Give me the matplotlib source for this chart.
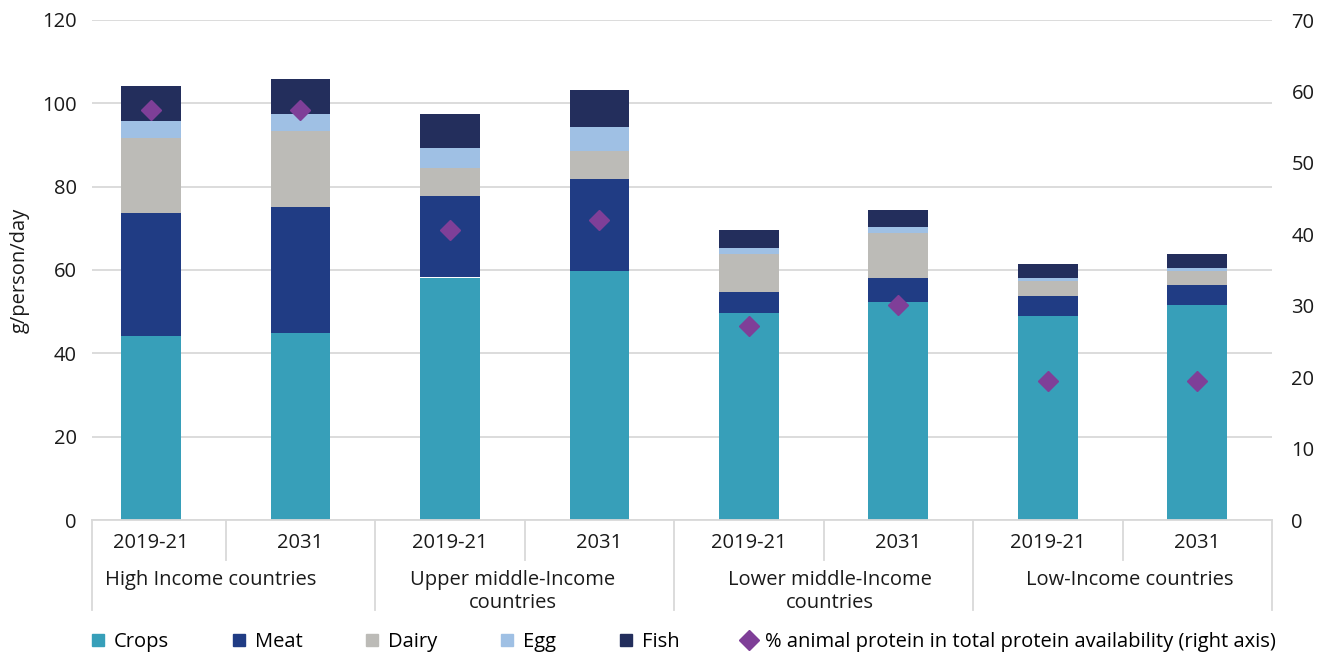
import matplotlib
matplotlib.use("Agg")
import matplotlib.pyplot as plt
from matplotlib.lines import Line2D
import numpy as np

plt.rcParams["font.family"] = ["Open Sans", "DejaVu Sans"]

years = ["2019-21", "2031", "2019-21", "2031", "2019-21", "2031", "2019-21", "2031"]
groups = ["High Income countries", "Upper middle-Income\ncountries",
          "Lower middle-Income\ncountries", "Low-Income countries"]

crops = [44.2, 44.9, 58.2, 59.8, 49.8, 52.3, 49.0, 51.5]
meat  = [29.4, 30.3, 19.6, 22.0, 4.9, 5.7, 4.8, 4.8]
dairy = [18.2, 18.2, 6.6, 6.7, 9.1, 10.8, 3.5, 3.4]
egg   = [4.0, 4.1, 4.9, 5.7, 1.6, 1.6, 0.7, 0.7]
fish  = [8.4, 8.3, 8.2, 9.0, 4.2, 4.1, 3.4, 3.4]
animal_share = [57.4, 57.4, 40.6, 42.0, 27.2, 30.1, 19.5, 19.5]

series = [("Crops", crops, "#379fb9"),
          ("Meat", meat, "#203c84"),
          ("Dairy", dairy, "#bcbbb7"),
          ("Egg", egg, "#9fc0e4"),
          ("Fish", fish, "#232e5c")]
diamond_color = "#7f3f98"
grid_color = "#d9d9d9"

fig = plt.figure(figsize=(13.32, 6.52), dpi=100)
ax = fig.add_axes([92 / 1332, 1 - 520 / 652, (1272 - 92) / 1332, 500 / 652])

x = np.arange(len(years))
bottom = np.zeros(len(years))
for name, vals, col in series:
    ax.bar(x, vals, width=0.40, bottom=bottom, color=col, edgecolor="none", zorder=2)
    bottom += np.array(vals)

ax.set_ylim(0, 120)
ax.set_yticks(range(0, 121, 20))
ax.set_xlim(-0.395, 7.5)
ax.set_xticks([])
ax.grid(axis="y", color=grid_color, lw=1.3, zorder=0)
for s in ax.spines.values():
    s.set_visible(False)
ax.tick_params(axis="y", length=0, pad=11, labelsize=14.5, colors="#1a1a1a")
ax.set_ylabel("g/person/day", fontsize=14.5, labelpad=9, color="#1a1a1a")

ax2 = ax.twinx()
ax2.set_ylim(0, 70)
ax2.set_yticks(range(0, 71, 10))
for s in ax2.spines.values():
    s.set_visible(False)
ax2.tick_params(axis="y", length=0, pad=14, labelsize=14.5, colors="#1a1a1a")
ax2.plot(x, animal_share, "D", color=diamond_color, ms=10.5, ls="", zorder=5)

# two-level category axis
trans = ax.get_xaxis_transform()
ax.plot([-0.395, 7.5], [0, 0], color=grid_color, lw=1.3, transform=trans, clip_on=False)
for b in np.arange(0.5, 7.5, 1.0):
    long = int(round(b - 0.5)) % 2 == 1
    ax.plot([b, b], [0, -0.18 if long else -0.08], color=grid_color, lw=1.3,
            transform=trans, clip_on=False)
for b in (-0.395, 7.5):
    ax.plot([b, b], [0, -0.18], color=grid_color, lw=1.3, transform=trans, clip_on=False)

for i, lab in enumerate(years):
    ax.text(i, -0.046, lab, transform=trans, ha="center", va="center",
            fontsize=14.5, color="#1a1a1a")
group_x = [0.4, 2.42, 4.54, 6.55]
for gx, lab in zip(group_x, groups):
    ax.text(gx, -0.10, lab, transform=trans, ha="center", va="top",
            fontsize=14.5, color="#1a1a1a", linespacing=1.2)

handles = [Line2D([], [], marker="s", ls="", color=c, ms=9) for _, _, c in series]
handles.append(Line2D([], [], marker="D", ls="", color=diamond_color, ms=10))
labels = [n for n, _, _ in series] + ["% animal protein in total protein availability (right axis)"]
fig.legend(handles, labels, ncol=6, loc="lower left", bbox_to_anchor=(80 / 1332, -0.012),
           frameon=False, fontsize=14.5, handletextpad=0.3, columnspacing=2.95,
           handlelength=1.0, borderaxespad=0)

fig.savefig("out.png", dpi=100)
